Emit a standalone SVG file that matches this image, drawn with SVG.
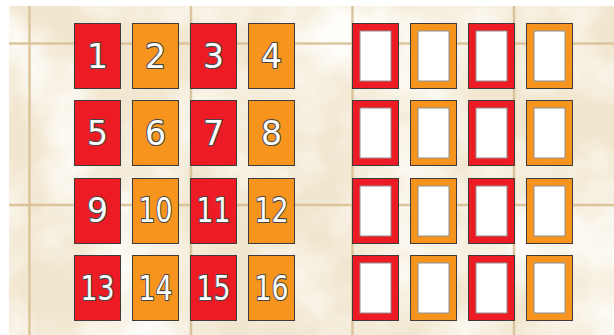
<svg xmlns="http://www.w3.org/2000/svg" width="614" height="335" viewBox="0 0 614 335">
  <defs>
    <filter id="marble" x="0" y="0" width="100%" height="100%">
      <feTurbulence type="fractalNoise" baseFrequency="0.011" numOctaves="4" seed="7" result="n"/>
      <feColorMatrix in="n" type="matrix" values="0 0 0 0 1  0 0 0 0 0.985  0 0 0 0 0.955  0 0 0 -2.4 1.55" result="w"/>
      <feComposite in="w" in2="SourceGraphic" operator="in"/>
    </filter>
    <style>
      .grout { stroke: #d8bf95; stroke-width: 2.5; stroke-opacity: 0.9; fill: none; }
      .red { fill: #ed1c24; }
      .org { fill: #f7941d; }
      .card { stroke: #3c3c3c; stroke-width: 1; }
      .hole { fill: #ffffff; stroke: #8f8f8f; stroke-width: 1; }
      .num { font-family: "DejaVu Sans", "Verdana", sans-serif; font-size: 33px; text-anchor: middle; fill: #ffffff; stroke: #464646; stroke-width: 2.2; paint-order: stroke; stroke-linejoin: round; }
    </style>
  </defs>

  <rect x="0" y="0" width="614" height="335" fill="#ffffff"/>
  <rect x="9" y="6" width="605" height="329" fill="#f1e6cf"/>
  <rect x="9" y="6" width="605" height="329" fill="#ffffff" filter="url(#marble)"/>

  <g id="tile-grout">
    <line class="grout" x1="29.5" y1="6" x2="29.5" y2="335"/>
    <line class="grout" x1="191" y1="6" x2="191" y2="335"/>
    <line class="grout" x1="352.5" y1="6" x2="352.5" y2="335"/>
    <line class="grout" x1="514" y1="6" x2="514" y2="335"/>
    <line class="grout" x1="9" y1="43.5" x2="614" y2="43.5"/>
    <line class="grout" x1="9" y1="205" x2="614" y2="205"/>
  </g>

  <g id="card-1"><rect class="card red" x="74.5" y="23.5" width="46" height="65"/><text class="num" x="97.5" y="67.5">1</text></g>
  <g id="card-2"><rect class="card org" x="132.5" y="23.5" width="46" height="65"/><text class="num" x="155.5" y="67.5">2</text></g>
  <g id="card-3"><rect class="card red" x="190.5" y="23.5" width="46" height="65"/><text class="num" x="213.5" y="67.5">3</text></g>
  <g id="card-4"><rect class="card org" x="248.5" y="23.5" width="46" height="65"/><text class="num" x="271.5" y="67.5">4</text></g>

  <g id="card-5"><rect class="card red" x="74.5" y="100.5" width="46" height="65"/><text class="num" x="97.5" y="144.5">5</text></g>
  <g id="card-6"><rect class="card org" x="132.5" y="100.5" width="46" height="65"/><text class="num" x="155.5" y="144.5">6</text></g>
  <g id="card-7"><rect class="card red" x="190.5" y="100.5" width="46" height="65"/><text class="num" x="213.5" y="144.5">7</text></g>
  <g id="card-8"><rect class="card org" x="248.5" y="100.5" width="46" height="65"/><text class="num" x="271.5" y="144.5">8</text></g>

  <g id="card-9"><rect class="card red" x="74.5" y="178.5" width="46" height="65"/><text class="num" x="97.5" y="222">9</text></g>
  <g id="card-10"><rect class="card org" x="132.5" y="178.5" width="46" height="65"/><text class="num" x="155.5" y="222" textLength="34" lengthAdjust="spacingAndGlyphs">10</text></g>
  <g id="card-11"><rect class="card red" x="190.5" y="178.5" width="46" height="65"/><text class="num" x="213.5" y="222" textLength="34" lengthAdjust="spacingAndGlyphs">11</text></g>
  <g id="card-12"><rect class="card org" x="248.5" y="178.5" width="46" height="65"/><text class="num" x="271.5" y="222" textLength="34" lengthAdjust="spacingAndGlyphs">12</text></g>

  <g id="card-13"><rect class="card red" x="74.5" y="255.5" width="46" height="65"/><text class="num" x="97.5" y="299.5" textLength="34" lengthAdjust="spacingAndGlyphs">13</text></g>
  <g id="card-14"><rect class="card org" x="132.5" y="255.5" width="46" height="65"/><text class="num" x="155.5" y="299.5" textLength="34" lengthAdjust="spacingAndGlyphs">14</text></g>
  <g id="card-15"><rect class="card red" x="190.5" y="255.5" width="46" height="65"/><text class="num" x="213.5" y="299.5" textLength="34" lengthAdjust="spacingAndGlyphs">15</text></g>
  <g id="card-16"><rect class="card org" x="248.5" y="255.5" width="46" height="65"/><text class="num" x="271.5" y="299.5" textLength="34" lengthAdjust="spacingAndGlyphs">16</text></g>

  <g id="frame-1"><rect class="card red" x="352.5" y="23.5" width="46" height="65"/><rect class="hole" x="360" y="31" width="31" height="50"/></g>
  <g id="frame-2"><rect class="card org" x="410.5" y="23.5" width="46" height="65"/><rect class="hole" x="418" y="31" width="31" height="50"/></g>
  <g id="frame-3"><rect class="card red" x="468.5" y="23.5" width="46" height="65"/><rect class="hole" x="476" y="31" width="31" height="50"/></g>
  <g id="frame-4"><rect class="card org" x="526.5" y="23.5" width="46" height="65"/><rect class="hole" x="534" y="31" width="31" height="50"/></g>

  <g id="frame-5"><rect class="card red" x="352.5" y="100.5" width="46" height="65"/><rect class="hole" x="360" y="108" width="31" height="50"/></g>
  <g id="frame-6"><rect class="card org" x="410.5" y="100.5" width="46" height="65"/><rect class="hole" x="418" y="108" width="31" height="50"/></g>
  <g id="frame-7"><rect class="card red" x="468.5" y="100.5" width="46" height="65"/><rect class="hole" x="476" y="108" width="31" height="50"/></g>
  <g id="frame-8"><rect class="card org" x="526.5" y="100.5" width="46" height="65"/><rect class="hole" x="534" y="108" width="31" height="50"/></g>

  <g id="frame-9"><rect class="card red" x="352.5" y="178.5" width="46" height="65"/><rect class="hole" x="360" y="186" width="31" height="50"/></g>
  <g id="frame-10"><rect class="card org" x="410.5" y="178.5" width="46" height="65"/><rect class="hole" x="418" y="186" width="31" height="50"/></g>
  <g id="frame-11"><rect class="card red" x="468.5" y="178.5" width="46" height="65"/><rect class="hole" x="476" y="186" width="31" height="50"/></g>
  <g id="frame-12"><rect class="card org" x="526.5" y="178.5" width="46" height="65"/><rect class="hole" x="534" y="186" width="31" height="50"/></g>

  <g id="frame-13"><rect class="card red" x="352.5" y="255.5" width="46" height="65"/><rect class="hole" x="360" y="263" width="31" height="50"/></g>
  <g id="frame-14"><rect class="card org" x="410.5" y="255.5" width="46" height="65"/><rect class="hole" x="418" y="263" width="31" height="50"/></g>
  <g id="frame-15"><rect class="card red" x="468.5" y="255.5" width="46" height="65"/><rect class="hole" x="476" y="263" width="31" height="50"/></g>
  <g id="frame-16"><rect class="card org" x="526.5" y="255.5" width="46" height="65"/><rect class="hole" x="534" y="263" width="31" height="50"/></g>
</svg>
